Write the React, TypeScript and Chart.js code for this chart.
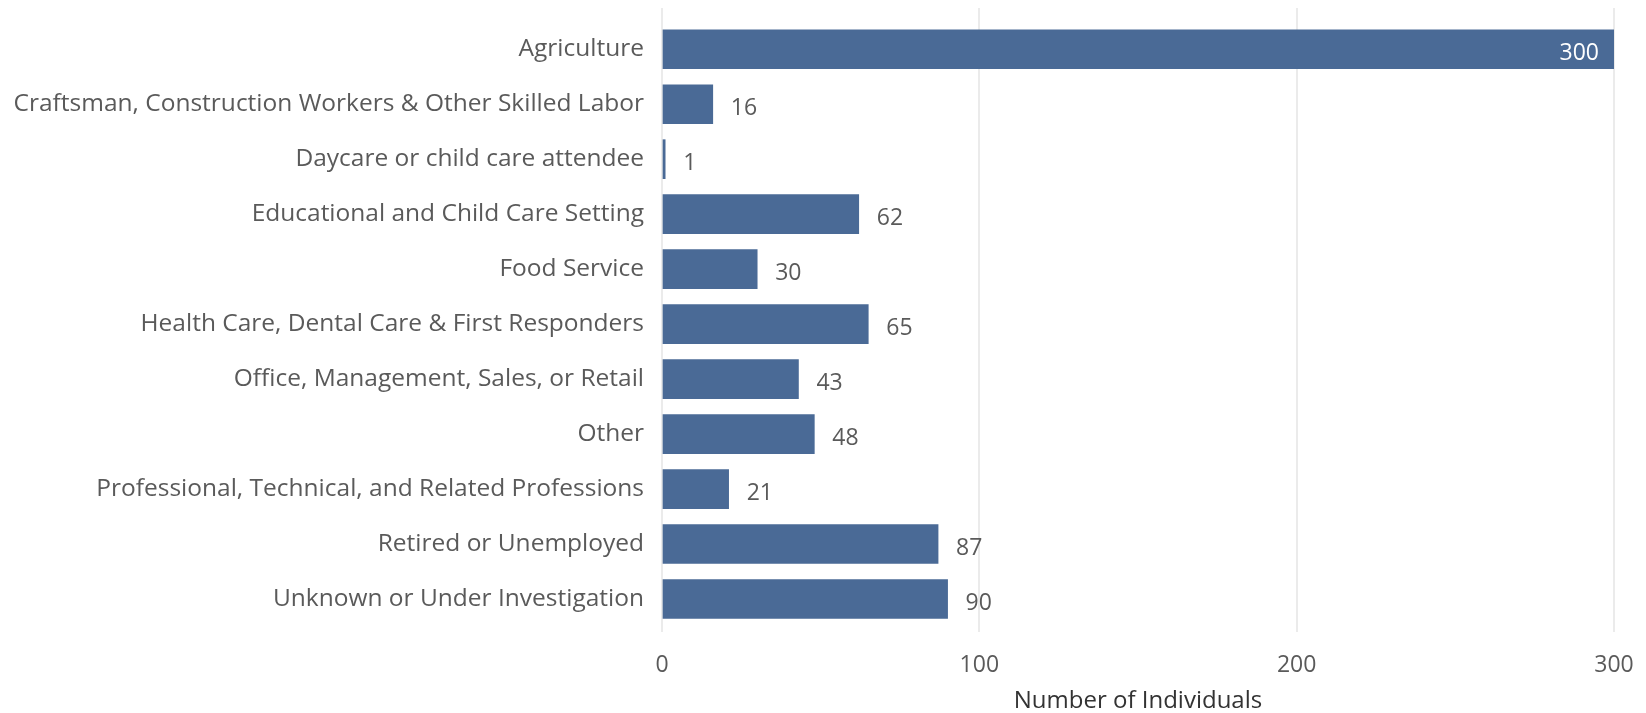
import React, { useEffect, useRef } from "react";
import { Chart, registerables } from "chart.js";

Chart.register(...registerables);

const categories = [
  "Agriculture",
  "Craftsman, Construction Workers & Other Skilled Labor",
  "Daycare or child care attendee",
  "Educational and Child Care Setting",
  "Food Service",
  "Health Care, Dental Care & First Responders",
  "Office, Management, Sales, or Retail",
  "Other",
  "Professional, Technical, and Related Professions",
  "Retired or Unemployed",
  "Unknown or Under Investigation",
];
const values = [300, 16, 1, 62, 30, 65, 43, 48, 21, 87, 90];
const xTickValues = [0, 100, 200, 300];
const xTitle = "Number of Individuals";

const FONT = "'Open Sans', 'Noto Sans', sans-serif";
const TEXT = "#5a5a5a";
const BAR = "#4a6a96";

const valueLabels = {
  id: "valueLabels",
  afterDatasetsDraw(chart: any) {
    const ctx = chart.ctx;
    const meta = chart.getDatasetMeta(0);
    const xs = chart.scales.x;
    ctx.save();
    ctx.font = `23px ${FONT}`;
    ctx.textBaseline = "middle";
    meta.data.forEach((el: any, i: number) => {
      const v = values[i];
      const y = el.y + 4;
      if (v >= xs.max * 0.9) {
        ctx.fillStyle = "#ffffff";
        ctx.textAlign = "right";
        ctx.fillText(String(v), el.x - 15, y);
      } else {
        ctx.fillStyle = TEXT;
        ctx.textAlign = "left";
        ctx.fillText(String(v), el.x + 18, y);
      }
    });
    ctx.restore();
  },
};

export default function App() {
  const ref = useRef<HTMLCanvasElement>(null);
  useEffect(() => {
    if (!ref.current) return;
    const chart = new Chart(ref.current, {
      type: "bar",
      data: {
        datasets: [
          {
            data: values.map((v, i) => ({ x: v, y: i })),
            backgroundColor: BAR,
            borderWidth: 0,
            barThickness: 39,
          },
        ],
      },
      options: {
        indexAxis: "y",
        animation: false,
        responsive: false,
        devicePixelRatio: 1,
        layout: { padding: { left: 0, right: 32, top: 8, bottom: 0 } },
        plugins: { legend: { display: false }, tooltip: { enabled: false } },
        scales: {
          x: {
            type: "linear",
            min: 0,
            max: 300,
            afterBuildTicks: (s: any) => {
              s.ticks = xTickValues.map((v) => ({ value: v }));
            },
            grid: { color: "#ebebeb", lineWidth: 2, drawTicks: false },
            border: { display: false },
            ticks: {
              color: TEXT,
              font: { family: FONT, size: 23 },
              padding: 20,
            },
            title: {
              display: true,
              text: xTitle,
              color: "#333333",
              font: { family: FONT, size: 24, lineHeight: 1.0 },
              padding: { top: 2, bottom: 0 },
            },
            afterFit: (s: any) => {
              s.height = 81;
              s.paddingLeft = 0;
              s.paddingRight = 0;
            },
          },
          y: {
            type: "linear",
            reverse: true,
            offset: false,
            min: -0.75,
            max: 10.6,
            afterBuildTicks: (s: any) => {
              s.ticks = categories.map((_, i) => ({ value: i }));
            },
            grid: { display: false, drawTicks: false, offset: false },
            border: { display: false },
            ticks: {
              autoSkip: false,
              color: TEXT,
              font: { family: FONT, size: 24.5 },
              padding: 18,
              callback: (v: any) => categories[v as number] ?? "",
            },
            afterFit: (s: any) => {
              s.width = 662;
              s.paddingTop = 0;
              s.paddingBottom = 0;
            },
          },
        },
      },
      plugins: [valueLabels],
    });
    return () => chart.destroy();
  }, []);
  return (
    <div style={{ position: "fixed", left: 0, top: 0, width: 1646, height: 713, background: "#fff" }}>
      <canvas ref={ref} width={1646} height={713} style={{ width: 1646, height: 713 }} />
    </div>
  );
}
